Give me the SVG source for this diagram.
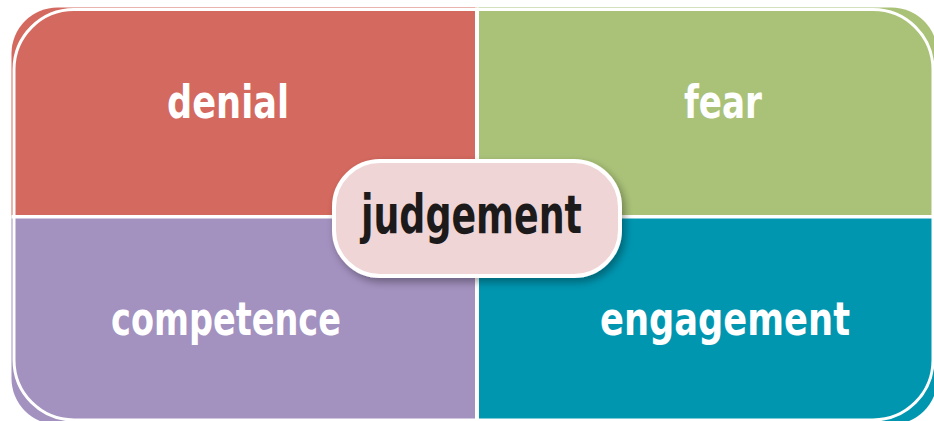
<svg xmlns="http://www.w3.org/2000/svg" width="934" height="421" viewBox="0 0 934 421">
<style>
.lbl{font-family:"DejaVu Sans Condensed","DejaVu Sans",sans-serif;font-weight:bold;fill:#ffffff;font-size:47px;}
.ctr{font-family:"DejaVu Sans Condensed","DejaVu Sans",sans-serif;font-weight:bold;fill:#1d1a1b;font-size:54px;}
.div{fill:#ffffff;}
</style>
<defs>
<clipPath id="outer">
<rect x="11.5" y="7.5" width="926" height="417" rx="46" ry="46"/>
</clipPath>
<filter id="shadow" x="-20%" y="-30%" width="140%" height="160%">
<feGaussianBlur in="SourceAlpha" stdDeviation="4"/>
<feOffset dx="3" dy="4" result="b"/>
<feComponentTransfer><feFuncA type="linear" slope="0.35"/></feComponentTransfer>
<feMerge><feMergeNode/><feMergeNode in="SourceGraphic"/></feMerge>
</filter>
</defs>
<rect width="934" height="421" fill="#ffffff"/>
<g clip-path="url(#outer)">
<g id="denial">
<rect x="0" y="0" width="477" height="216.5" fill="#D4695F"/>
<text class="lbl" x="167" y="118" textLength="122" lengthAdjust="spacingAndGlyphs">denial</text>
</g>
<g id="fear">
<rect x="477" y="0" width="460" height="216.5" fill="#AAC278"/>
<text class="lbl" x="684" y="118" textLength="78" lengthAdjust="spacingAndGlyphs">fear</text>
</g>
<g id="competence">
<rect x="0" y="216.5" width="477" height="210" fill="#A391BF"/>
<text class="lbl" x="111" y="335" textLength="230" lengthAdjust="spacingAndGlyphs">competence</text>
</g>
<g id="engagement">
<rect x="477" y="216.5" width="460" height="210" fill="#0096B0"/>
<text class="lbl" x="600" y="335" textLength="250" lengthAdjust="spacingAndGlyphs">engagement</text>
</g>
<rect class="div" x="475" y="0" width="4" height="421"/>
<rect class="div" x="0" y="215" width="934" height="3.5"/>
</g>
<rect x="14" y="9.5" width="919" height="410.5" rx="60" ry="60" fill="none" stroke="#ffffff" stroke-width="3"/>
<g id="connectors"></g>
<g id="judgement">
<rect x="334" y="161" width="286" height="115" rx="46" ry="46" fill="#EFD5D5" stroke="#ffffff" stroke-width="4" filter="url(#shadow)"/>
<text class="ctr" x="361" y="233" textLength="221" lengthAdjust="spacingAndGlyphs">judgement</text>
</g>
</svg>
